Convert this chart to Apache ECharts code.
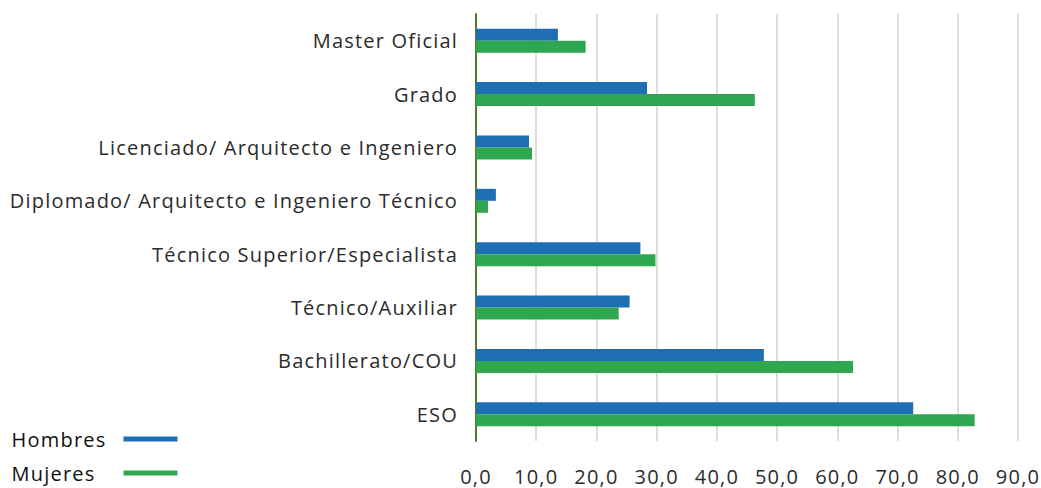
<!DOCTYPE html>
<html>
<head>
<meta charset="utf-8">
<style>
  html, body { margin: 0; padding: 0; background: #fff; }
  #chart { width: 1041px; height: 488px; letter-spacing: 1.2px; }
</style>
<script src="https://cdn.jsdelivr.net/npm/echarts@6/dist/echarts.min.js"></script>
</head>
<body>
<div id="chart"></div>
<script>
// Niveles de estudios (de arriba abajo)
const categories = [
  'Master Oficial',
  'Grado',
  'Licenciado/ Arquitecto e Ingeniero',
  'Diplomado/ Arquitecto e Ingeniero Técnico',
  'Técnico Superior/Especialista',
  'Técnico/Auxiliar',
  'Bachillerato/COU',
  'ESO'
];
const hombres = [13.6, 28.4, 8.8, 3.3, 27.3, 25.5, 47.8, 72.6];
const mujeres = [18.2, 46.3, 9.3, 2.0, 29.8, 23.7, 62.6, 82.8];
const seriesNames = ['Hombres', 'Mujeres'];

const FONT = '"Open Sans", Lato, sans-serif';
const TEXT = '#2b2b2b';
const chart = echarts.init(document.getElementById('chart'), null, { renderer: 'svg' });
chart.setOption({
  animation: false,
  textStyle: { fontFamily: FONT },
  grid: { left: 476, right: 23, top: 14, bottom: 47, containLabel: false },
  legend: {
    data: [
      { name: seriesNames[0], textStyle: { padding: [0, 12, 0, 0] } },
      { name: seriesNames[1], textStyle: { padding: [0, 23, 0, 0] } }
    ],
    orient: 'vertical',
    left: 20,
    top: 429,
    height: 56,
    padding: 0,
    align: 'right',
    itemGap: 14,
    itemWidth: 54,
    itemHeight: 5,
    icon: 'rect',
    textStyle: { fontSize: 20, lineHeight: 20, color: '#111', fontFamily: FONT }
  },
  xAxis: {
    type: 'value',
    min: 0,
    max: 90,
    interval: 10,
    axisLine: { show: false },
    axisTick: { show: false },
    splitLine: { show: true, lineStyle: { color: '#d2d2d2', width: 1.5 } },
    axisLabel: {
      fontSize: 20,
      color: TEXT,
      margin: 25,
      formatter: v => v.toFixed(1).replace('.', ',')
    }
  },
  yAxis: {
    type: 'category',
    data: categories,
    inverse: true,
    axisLine: { show: true, lineStyle: { color: '#557a2e', width: 2 } },
    axisTick: { show: false },
    axisLabel: { fontSize: 20, color: TEXT, margin: 18 }
  },
  series: [
    {
      name: seriesNames[0],
      type: 'bar',
      data: hombres,
      barWidth: 12,
      barGap: '0%',
      itemStyle: { color: '#1d6eb3' }
    },
    {
      name: seriesNames[1],
      type: 'bar',
      data: mujeres,
      barWidth: 12,
      itemStyle: { color: '#2ea750' }
    }
  ]
});
</script>
</body>
</html>
